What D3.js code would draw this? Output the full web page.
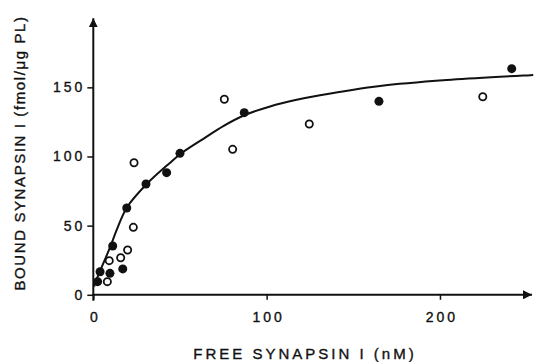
<!DOCTYPE html>
<html>
<head>
<meta charset="utf-8">
<script src="https://cdn.jsdelivr.net/npm/d3@7"></script>
<style>
  body { margin: 0; background: #fff; }
  text { font-family: "Liberation Sans", Arial, sans-serif; fill: #111; stroke: #111; stroke-width: 0.35px; }
</style>
</head>
<body>
<div id="chart"></div>
<script>
// bound vs free synapsin I
var filledX = [2.5, 3.9, 9.6, 11.2, 17.0, 19.3, 30.4, 42.3, 50.0, 87.1, 164.8, 241.4];
var filledY = [9.5, 16.7, 15.5, 35.3, 18.7, 62.8, 80.1, 88.3, 102.3, 131.7, 139.9, 163.5];

var openX = [8.1, 9.2, 15.8, 19.8, 23.1, 23.5, 75.6, 80.4, 124.6, 224.7];
var openY = [9.5, 24.7, 26.8, 32.4, 48.8, 95.5, 141.4, 105.2, 123.5, 143.2];

// fitted curve, traced
var curveX = [0.5, 1, 10, 13.5, 19.3, 30.8, 44.3, 51, 63.5, 75, 87.5, 102, 117.3, 130.8, 165.4, 203.9, 253.8];
var curveY = [6, 8.3, 35.3, 46.9, 63, 80.1, 95.5, 102.5, 112.8, 122, 130, 136.2, 141, 144.3, 151, 155.3, 158.9];

var xTicks = [0, 100, 200];
var yTicks = [0, 50, 100, 150];

var width = 534, height = 362;

var svg = d3.select("#chart").append("svg")
    .attr("width", width)
    .attr("height", height);

var x = d3.scaleLinear().domain([0, 253.1]).range([93.3, 532]);
var y = d3.scaleLinear().domain([0, 200]).range([294.8, 18.2]);

// arrow heads
var defs = svg.append("defs");
defs.append("marker")
    .attr("id", "arrow")
    .attr("viewBox", "0 0 10 10")
    .attr("refX", 10).attr("refY", 5)
    .attr("markerWidth", 4.5).attr("markerHeight", 4.5)
    .attr("markerUnits", "strokeWidth")
    .attr("orient", "auto")
    .append("path")
    .attr("d", "M0,0L10,5L0,10Z")
    .attr("fill", "#111");

// x axis
var xAxis = d3.axisBottom(x)
    .tickValues(xTicks)
    .tickSize(5)
    .tickPadding(12)
    .tickFormat(d3.format("d"));

var gx = svg.append("g")
    .attr("transform", "translate(0," + y(0) + ")")
    .call(xAxis);
gx.select(".domain").remove();
gx.selectAll(".tick line").attr("stroke", "#111").attr("stroke-width", 1.5);
gx.selectAll(".tick text")
    .attr("font-size", 14)
    .style("letter-spacing", "3px")
    .attr("dx", "1.5px");

svg.append("line")
    .attr("x1", x(0) - 1).attr("x2", x(253.1))
    .attr("y1", y(0)).attr("y2", y(0))
    .attr("stroke", "#111").attr("stroke-width", 2)
    .attr("marker-end", "url(#arrow)");

// y axis
var yAxis = d3.axisLeft(y)
    .tickValues(yTicks)
    .tickSize(6)
    .tickPadding(5)
    .tickFormat(d3.format("d"));

var gy = svg.append("g")
    .attr("transform", "translate(" + x(0) + ",0)")
    .call(yAxis);
gy.select(".domain").remove();
gy.selectAll(".tick line").attr("stroke", "#111").attr("stroke-width", 1.5);
gy.selectAll(".tick text")
    .attr("font-size", 14)
    .style("letter-spacing", "3px")
    .attr("dx", "3px");

svg.append("line")
    .attr("x1", x(0)).attr("x2", x(0))
    .attr("y1", y(0) + 6).attr("y2", y(200))
    .attr("stroke", "#111").attr("stroke-width", 2)
    .attr("marker-end", "url(#arrow)");

// titles
svg.append("text")
    .attr("x", 305)
    .attr("y", 359)
    .attr("text-anchor", "middle")
    .attr("font-size", 15)
    .style("letter-spacing", "3px")
    .text("FREE SYNAPSIN I (nM)");

svg.append("text")
    .attr("transform", "translate(25,153) rotate(-90)")
    .attr("text-anchor", "middle")
    .attr("font-size", 15)
    .style("letter-spacing", "1.6px")
    .text("BOUND SYNAPSIN I (fmol/\u03bcg PL)");

// fitted curve
var line = d3.line()
    .x(function (d) { return x(d[0]); })
    .y(function (d) { return y(d[1]); })
    .curve(d3.curveCatmullRom.alpha(0.5));

svg.append("path")
    .datum(d3.zip(curveX, curveY))
    .attr("fill", "none")
    .attr("stroke", "#111")
    .attr("stroke-width", 2)
    .attr("d", line);

// open circles
svg.selectAll("circle.open")
    .data(d3.zip(openX, openY))
    .enter().append("circle")
    .attr("class", "open")
    .attr("cx", function (d) { return x(d[0]); })
    .attr("cy", function (d) { return y(d[1]); })
    .attr("r", 3.6)
    .attr("fill", "#fff")
    .attr("stroke", "#111")
    .attr("stroke-width", 1.8);

// filled circles
svg.selectAll("circle.filled")
    .data(d3.zip(filledX, filledY))
    .enter().append("circle")
    .attr("class", "filled")
    .attr("cx", function (d) { return x(d[0]); })
    .attr("cy", function (d) { return y(d[1]); })
    .attr("r", 4.5)
    .attr("fill", "#111");
</script>
</body>
</html>
